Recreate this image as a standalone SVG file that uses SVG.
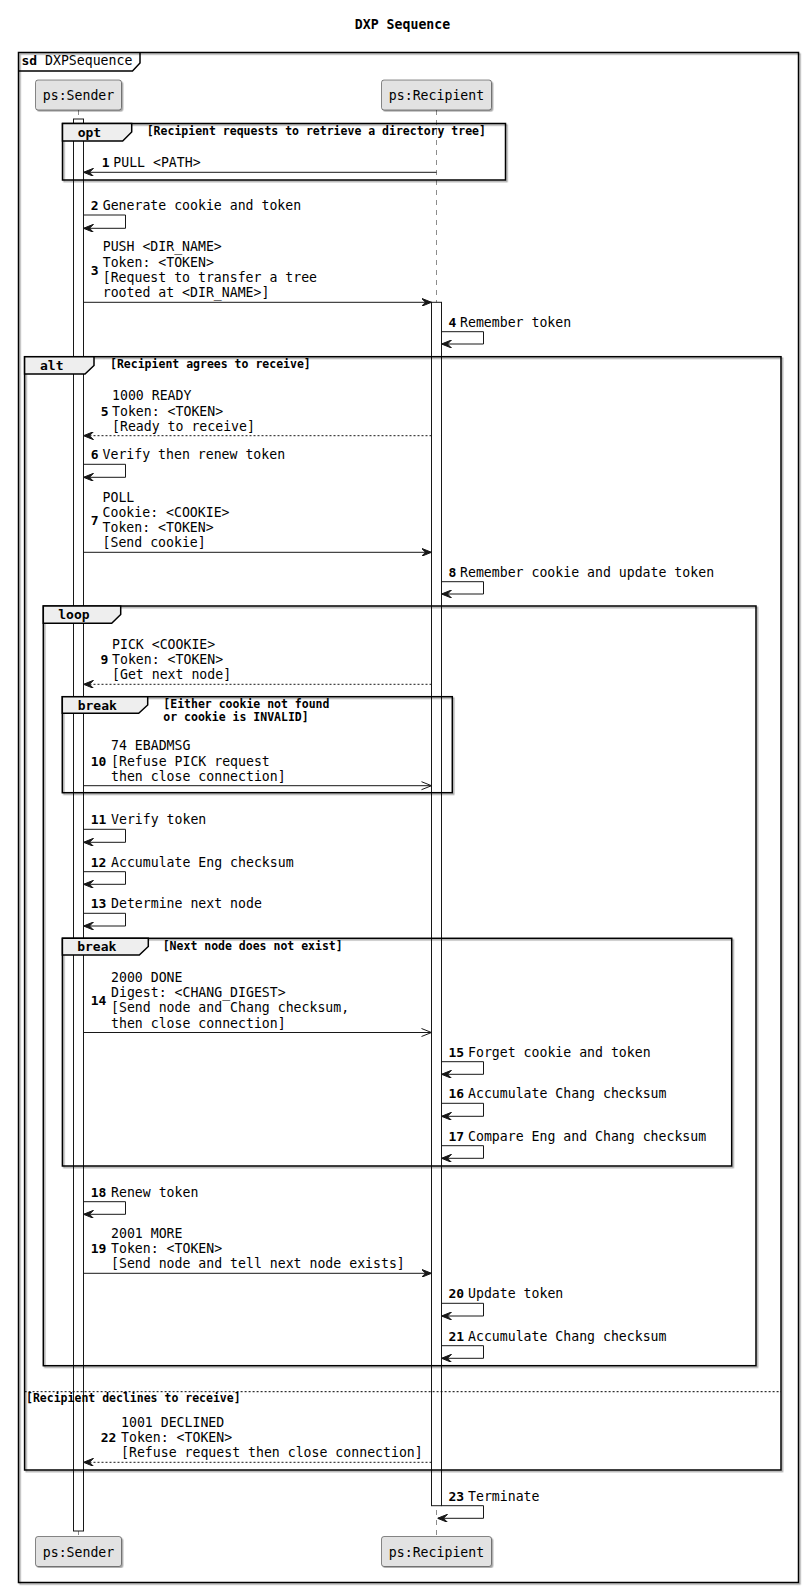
<svg xmlns="http://www.w3.org/2000/svg" width="803" height="1588" viewBox="0 0 803 1588">
<style>
  text { font-family: "DejaVu Sans Mono", "Liberation Mono", monospace; fill: #000000; }
  .msg { font-size: 13.2px; }
  .num { font-size: 13px; font-weight: bold; }
  .flab { font-size: 13px; font-weight: bold; }
  .cond { font-size: 11.5px; font-weight: bold; }
  .title { font-size: 13.2px; font-weight: bold; }
  .pname { font-size: 13.2px; }
  .frame { fill: none; stroke: #000000; stroke-width: 1.5; filter: url(#sh); }
  .tab { fill: #EEEEEE; stroke: #000000; stroke-width: 1.5; }
  .part { fill: #E2E2E2; stroke: #181818; stroke-width: 0.5; filter: url(#sh); }
  .life { stroke: #181818; stroke-width: 0.5; stroke-dasharray: 5,5; fill: none; }
  .act { fill: #FFFFFF; stroke: #181818; stroke-width: 1; }
  .line { stroke: #181818; stroke-width: 1; fill: none; }
  .dash { stroke-dasharray: 2,2; }
  .sync { marker-end: url(#ah); }
  .async { marker-end: url(#oh); }
</style>
<defs>
  <filter id="sh" x="-5%" y="-5%" width="110%" height="110%">
    <feDropShadow dx="1.5" dy="1.5" stdDeviation="0.6" flood-color="#000000" flood-opacity="0.35"/>
  </filter>
  <marker id="ah" viewBox="0 0 10 8" refX="10" refY="4" markerWidth="10" markerHeight="8" markerUnits="userSpaceOnUse" orient="auto">
    <path d="M0,0 L10,4 L0,8 L4,4 Z" fill="#181818" stroke="#181818" stroke-width="1"/>
  </marker>
  <marker id="oh" viewBox="-1 -1 12 10" refX="10" refY="4" markerWidth="12" markerHeight="10" markerUnits="userSpaceOnUse" orient="auto">
    <path d="M0,0 L10,4 L0,8" fill="none" stroke="#181818" stroke-width="1"/>
  </marker>
</defs>
<rect x="0" y="0" width="803" height="1588" fill="#FFFFFF"/>

<text class="title" x="402.5" y="28.5" text-anchor="middle">DXP Sequence</text>

<!-- lifelines and activations -->
<g id="lifelines">
  <line class="life" x1="78.5" y1="110" x2="78.5" y2="1536.5"/>
  <line class="life" x1="436.5" y1="110" x2="436.5" y2="1536.5"/>
  <rect class="act" x="73.5" y="119" width="10" height="1412"/>
  <rect class="act" x="431.5" y="302.3" width="10" height="1203.4"/>
</g>

<!-- frames -->
<g id="frame-sd">
  <rect class="frame" x="18.5" y="52.5" width="780" height="1530"/>
  <path d="M18.5,71 H132.5 L140,63 V52.5" fill="none" stroke="#000000" stroke-width="1.5"/>
  <text class="flab" x="21.5" y="65">sd</text>
  <text class="msg" x="45" y="65">DXPSequence</text>
</g>
<g id="frame-opt">
  <rect class="frame" x="62.5" y="123.5" width="443" height="56.5"/>
  <path class="tab" d="M62.5,123.5 H131.7 V132 L122.7,141 H62.5 Z"/>
  <text class="flab" x="77.7" y="136.5">opt</text>
  <text class="cond" x="146.7" y="135">[Recipient requests to retrieve a directory tree]</text>
</g>
<g id="frame-alt">
  <rect class="frame" x="24.6" y="356.7" width="756.4" height="1113.3"/>
  <path class="tab" d="M24.6,356.7 H94 V365.5 L85,374 H24.6 Z"/>
  <text class="flab" x="40" y="369.5">alt</text>
  <text class="cond" x="110" y="368">[Recipient agrees to receive]</text>
  <line x1="24.6" y1="1391.7" x2="781" y2="1391.7" stroke="#000000" stroke-width="1" stroke-dasharray="2,2"/>
  <text class="cond" x="26" y="1402">[Recipient declines to receive]</text>
</g>
<g id="frame-loop">
  <rect class="frame" x="43.3" y="606" width="712.7" height="759.7"/>
  <path class="tab" d="M43.3,606 H120.7 V614.5 L111.7,623.3 H43.3 Z"/>
  <text class="flab" x="58.3" y="619">loop</text>
</g>
<g id="frame-break1">
  <rect class="frame" x="62.3" y="696.7" width="390" height="96"/>
  <path class="tab" d="M62.3,696.7 H147.7 V705 L138.7,713.3 H62.3 Z"/>
  <text class="flab" x="77.7" y="710">break</text>
  <text class="cond" x="163.3" y="708">[Either cookie not found</text>
  <text class="cond" x="163.3" y="720.5">or cookie is INVALID]</text>
</g>
<g id="frame-break2">
  <rect class="frame" x="62.4" y="938.3" width="669.3" height="227.7"/>
  <path class="tab" d="M62.4,938.3 H148.3 V946.5 L139.3,955 H62.4 Z"/>
  <text class="flab" x="77.2" y="951">break</text>
  <text class="cond" x="162.7" y="949.5">[Next node does not exist]</text>
</g>

<!-- connectors -->
<g id="connectors">
  <line class="line sync" x1="436.5" y1="172.3" x2="83.5" y2="172.3"/>
  <path class="line sync" d="M83.5,215 H125.5 V228.3 H83.5"/>
  <line class="line sync" x1="83.5" y1="302.3" x2="431.5" y2="302.3"/>
  <path class="line sync" d="M441.5,331.7 H483.5 V344 H441.5"/>
  <line class="line dash sync" x1="431.5" y1="435.7" x2="83.5" y2="435.7"/>
  <path class="line sync" d="M83.5,464.3 H125.5 V477.3 H83.5"/>
  <line class="line sync" x1="83.5" y1="552.3" x2="431.5" y2="552.3"/>
  <path class="line sync" d="M441.5,581.7 H483.5 V594 H441.5"/>
  <line class="line dash sync" x1="431.5" y1="684.3" x2="83.5" y2="684.3"/>
  <line class="line async" x1="83.5" y1="785.7" x2="431.5" y2="785.7"/>
  <path class="line sync" d="M83.5,829.3 H125.5 V842.3 H83.5"/>
  <path class="line sync" d="M83.5,871.7 H125.5 V884.3 H83.5"/>
  <path class="line sync" d="M83.5,913.3 H125.5 V926 H83.5"/>
  <line class="line async" x1="83.5" y1="1032.5" x2="431.5" y2="1032.5"/>
  <path class="line sync" d="M441.5,1061.7 H483.5 V1074.3 H441.5"/>
  <path class="line sync" d="M441.5,1103.3 H483.5 V1116.3 H441.5"/>
  <path class="line sync" d="M441.5,1145.7 H483.5 V1158.3 H441.5"/>
  <path class="line sync" d="M83.5,1201.7 H125.5 V1214.3 H83.5"/>
  <line class="line sync" x1="83.5" y1="1273.3" x2="431.5" y2="1273.3"/>
  <path class="line sync" d="M441.5,1303.3 H483.5 V1316 H441.5"/>
  <path class="line sync" d="M441.5,1345.7 H483.5 V1358.3 H441.5"/>
  <line class="line dash sync" x1="431.5" y1="1462.3" x2="83.5" y2="1462.3"/>
  <path class="line sync" d="M441.5,1505.7 H483.5 V1518.3 H437.5"/>
</g>

<!-- message labels -->
<g id="labels">
  <text class="num" x="101.7" y="167">1</text>
  <text class="msg" x="113.3" y="167">PULL &lt;PATH&gt;</text>

  <text class="num" x="90.7" y="210">2</text>
  <text class="msg" x="102.7" y="210">Generate cookie and token</text>

  <text class="num" x="90.7" y="275">3</text>
  <text class="msg" x="102.7" y="251.4">PUSH &lt;DIR_NAME&gt;</text>
  <text class="msg" x="102.7" y="266.6">Token: &lt;TOKEN&gt;</text>
  <text class="msg" x="102.7" y="281.8">[Request to transfer a tree</text>
  <text class="msg" x="102.7" y="297">rooted at &lt;DIR_NAME&gt;]</text>

  <text class="num" x="448.5" y="326.7">4</text>
  <text class="msg" x="460" y="326.7">Remember token</text>

  <text class="num" x="100.8" y="415.5">5</text>
  <text class="msg" x="112" y="400.3">1000 READY</text>
  <text class="msg" x="112" y="415.5">Token: &lt;TOKEN&gt;</text>
  <text class="msg" x="112" y="430.7">[Ready to receive]</text>

  <text class="num" x="90.7" y="459.3">6</text>
  <text class="msg" x="102.5" y="459.3">Verify then renew token</text>

  <text class="num" x="90.7" y="524.5">7</text>
  <text class="msg" x="102.5" y="501.7">POLL</text>
  <text class="msg" x="102.5" y="516.9">Cookie: &lt;COOKIE&gt;</text>
  <text class="msg" x="102.5" y="532.1">Token: &lt;TOKEN&gt;</text>
  <text class="msg" x="102.5" y="547.3">[Send cookie]</text>

  <text class="num" x="448.5" y="576.7">8</text>
  <text class="msg" x="460" y="576.7">Remember cookie and update token</text>

  <text class="num" x="100.5" y="664.1">9</text>
  <text class="msg" x="112" y="648.9">PICK &lt;COOKIE&gt;</text>
  <text class="msg" x="112" y="664.1">Token: &lt;TOKEN&gt;</text>
  <text class="msg" x="112" y="679.3">[Get next node]</text>

  <text class="num" x="90.7" y="765.5">10</text>
  <text class="msg" x="111" y="750.3">74 EBADMSG</text>
  <text class="msg" x="111" y="765.5">[Refuse PICK request</text>
  <text class="msg" x="111" y="780.7">then close connection]</text>

  <text class="num" x="90.7" y="824.3">11</text>
  <text class="msg" x="111" y="824.3">Verify token</text>

  <text class="num" x="90.7" y="866.7">12</text>
  <text class="msg" x="111" y="866.7">Accumulate Eng checksum</text>

  <text class="num" x="90.7" y="908.3">13</text>
  <text class="msg" x="111" y="908.3">Determine next node</text>

  <text class="num" x="90.7" y="1004.7">14</text>
  <text class="msg" x="111" y="981.9">2000 DONE</text>
  <text class="msg" x="111" y="997.1">Digest: &lt;CHANG_DIGEST&gt;</text>
  <text class="msg" x="111" y="1012.3">[Send node and Chang checksum,</text>
  <text class="msg" x="111" y="1027.5">then close connection]</text>

  <text class="num" x="448.5" y="1056.7">15</text>
  <text class="msg" x="468" y="1056.7">Forget cookie and token</text>

  <text class="num" x="448.5" y="1098.3">16</text>
  <text class="msg" x="468" y="1098.3">Accumulate Chang checksum</text>

  <text class="num" x="448.5" y="1140.7">17</text>
  <text class="msg" x="468" y="1140.7">Compare Eng and Chang checksum</text>

  <text class="num" x="90.7" y="1196.7">18</text>
  <text class="msg" x="111" y="1196.7">Renew token</text>

  <text class="num" x="90.7" y="1253.1">19</text>
  <text class="msg" x="111" y="1237.9">2001 MORE</text>
  <text class="msg" x="111" y="1253.1">Token: &lt;TOKEN&gt;</text>
  <text class="msg" x="111" y="1268.3">[Send node and tell next node exists]</text>

  <text class="num" x="448.5" y="1298.3">20</text>
  <text class="msg" x="468" y="1298.3">Update token</text>

  <text class="num" x="448.5" y="1340.7">21</text>
  <text class="msg" x="468" y="1340.7">Accumulate Chang checksum</text>

  <text class="num" x="100.8" y="1442.1">22</text>
  <text class="msg" x="121" y="1426.9">1001 DECLINED</text>
  <text class="msg" x="121" y="1442.1">Token: &lt;TOKEN&gt;</text>
  <text class="msg" x="121" y="1457.3">[Refuse request then close connection]</text>

  <text class="num" x="448.5" y="1500.7">23</text>
  <text class="msg" x="468" y="1500.7">Terminate</text>
</g>

<!-- participants -->
<g id="sender-top">
  <rect class="part" x="35.5" y="80" width="86" height="30" rx="2.5"/>
  <text class="pname" x="78.5" y="100" text-anchor="middle">ps:Sender</text>
</g>
<g id="recipient-top">
  <rect class="part" x="381.5" y="80" width="110" height="30" rx="2.5"/>
  <text class="pname" x="436.5" y="100" text-anchor="middle">ps:Recipient</text>
</g>
<g id="sender-bottom">
  <rect class="part" x="35.5" y="1536.5" width="86" height="30" rx="2.5"/>
  <text class="pname" x="78.5" y="1556.5" text-anchor="middle">ps:Sender</text>
</g>
<g id="recipient-bottom">
  <rect class="part" x="381.5" y="1536.5" width="110" height="30" rx="2.5"/>
  <text class="pname" x="436.5" y="1556.5" text-anchor="middle">ps:Recipient</text>
</g>
</svg>
